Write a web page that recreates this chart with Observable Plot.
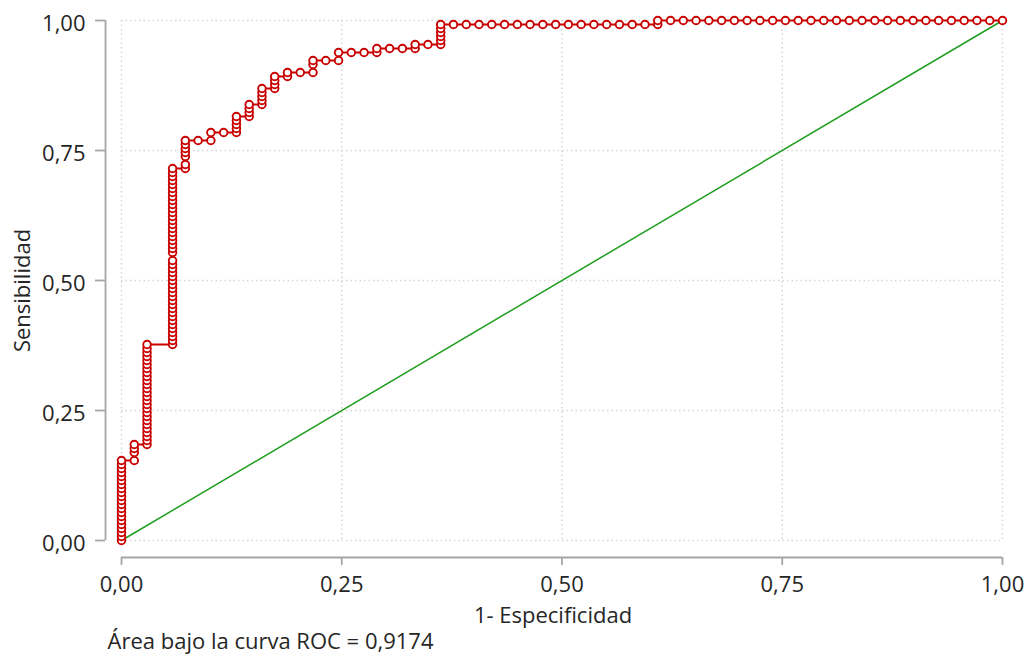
<!DOCTYPE html>
<html>
<head>
<meta charset="utf-8">
<script src="https://cdn.jsdelivr.net/npm/d3@7"></script>
<script src="https://cdn.jsdelivr.net/npm/@observablehq/plot@0.6"></script>
<style>
  body { margin: 0; background: #ffffff; }
  #chart svg { display: block; }
</style>
</head>
<body>
<div id="chart"></div>
<script>
// ---- Data ----
const nNegatives = 69;   // number of negative cases (x steps)
const nPositives = 130;  // number of positive cases (y steps)

// false-positive count of each column of markers
const falsePositives = [
  0, 1, 2, 4, 5, 6, 7, 8, 9, 10, 11, 12, 13, 14, 15, 16, 17, 18, 19, 20, 21, 22, 23, 24, 25,
  26, 27, 28, 29, 30, 31, 32, 33, 34, 35, 36, 37, 38, 39, 40, 41,
  42,
  43, 44, 45, 46, 47, 48, 49, 50, 51, 52, 53, 54, 55, 56, 57, 58, 59, 60, 61, 62, 63, 64, 65, 66, 67, 68, 69
];

// true-positive counts of the markers in each column
const truePositivesAt = [
  [0, 1, 2, 3, 4, 5, 6, 7, 8, 9, 10, 11, 12, 13, 14, 15, 16, 17, 18, 19, 20],
  [20, 22, 23, 24],
  [24, 25, 26, 27, 28, 29, 30, 31, 32, 33, 34, 35, 36, 37, 38, 39, 40, 41, 42, 43, 44, 45, 46, 47, 48, 49],
  [49, 50, 51, 52, 53, 54, 55, 56, 57, 58, 59, 60, 61, 62, 63, 64, 65, 66, 67, 68, 69, 70,
   72, 73, 74, 75, 76, 77, 78, 79, 80, 81, 82, 83, 84, 85, 86, 87, 88, 89, 90, 91, 92, 93],
  [93, 94, 96, 97, 98, 99, 100],
  [100],
  [100, 102],
  [102],
  [102, 103, 104, 105, 106],
  [106, 107, 108, 109],
  [109, 110, 111, 112, 113],
  [113, 114, 115, 116],
  [116, 117],
  [117],
  [117, 119, 120],
  [120],
  [120, 122],
  [122],
  [122],
  [122, 123],
  [123],
  [123],
  [123, 124],
  [124],
  [124, 125, 126, 127, 128, 129],
  [129], [129], [129], [129], [129], [129], [129], [129],
  [129], [129], [129], [129], [129], [129], [129], [129],
  [129, 130],
  [130], [130], [130], [130], [130], [130], [130], [130], [130],
  [130], [130], [130], [130], [130], [130], [130], [130], [130],
  [130], [130], [130], [130], [130], [130], [130], [130], [130]
];

const chanceLine = [0, 1];                 // reference diagonal
const tickValues = [0, 0.25, 0.5, 0.75, 1];
const xLabel = "1- Especificidad";
const yLabel = "Sensibilidad";
const captionText = "Área bajo la curva ROC = 0,9174";

// ---- Build table ----
const points = falsePositives.flatMap((f, i) =>
  truePositivesAt[i].map(t => ({fpr: f / nNegatives, tpr: t / nPositives}))
);

const fmt = d => d.toFixed(2).replace(".", ",");
const red = "#c80000";
const green = "#1f9e1f";
const axisGray = "#a6a6a6";
const textColor = "#262626";

const chart = Plot.plot({
  width: 1028,
  height: 654,
  marginLeft: 121,
  marginRight: 26,
  marginTop: 20,
  marginBottom: 114,
  x: {domain: [0, 1], axis: null},
  y: {domain: [0, 1], axis: null},
  style: {fontFamily: "'Open Sans', sans-serif", fontSize: "22px", color: textColor, background: "#ffffff"},
  marks: [
    Plot.gridX(tickValues, {stroke: "#d6d6d6", strokeOpacity: 1, strokeWidth: 1.5, strokeDasharray: "1.5,3"}),
    Plot.gridY(tickValues, {stroke: "#d6d6d6", strokeOpacity: 1, strokeWidth: 1.5, strokeDasharray: "1.5,3"}),
    Plot.ruleX([0], {dx: -16, stroke: axisGray, strokeWidth: 1.8}),
    Plot.ruleY([0], {dy: 17, stroke: axisGray, strokeWidth: 1.8}),
    // y axis: ticks, then labels nudged slightly down
    Plot.axisY(tickValues, {tickSize: 10, dx: -16, tickFormat: () => "", label: null, stroke: axisGray, strokeWidth: 1.8}),
    Plot.axisY(tickValues, {tickSize: 0, tickPadding: 20, dx: -16, dy: 3, tickFormat: fmt, label: null, fill: textColor}),
    Plot.axisX(tickValues, {tickSize: 8, tickPadding: 11, dy: 17, tickFormat: fmt, label: null, stroke: axisGray, strokeWidth: 1.8, fill: textColor}),
    Plot.line(chanceLine, {x: d => d, y: d => d, stroke: green, strokeWidth: 1.5}),
    Plot.line(points, {x: "fpr", y: "tpr", stroke: red, strokeWidth: 2}),
    Plot.dot(points, {x: "fpr", y: "tpr", r: 3.8, stroke: red, strokeWidth: 1.9, fill: "white"}),
    Plot.text([xLabel], {frameAnchor: "bottom", textAnchor: "middle", dx: -9, dy: 82, lineAnchor: "bottom", fill: textColor}),
    Plot.text([yLabel], {frameAnchor: "left", textAnchor: "middle", rotate: -90, dx: -99, dy: 10, fill: textColor}),
    Plot.text([captionText], {frameAnchor: "bottom-left", textAnchor: "start", lineAnchor: "bottom", dx: -14, dy: 108, fill: textColor})
  ]
});

document.getElementById("chart").appendChild(chart);
</script>
</body>
</html>
